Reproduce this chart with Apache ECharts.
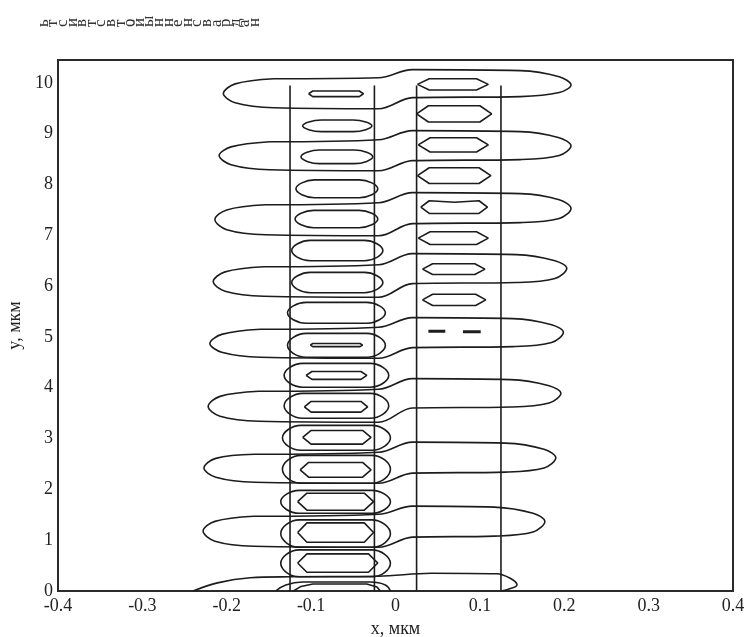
<!DOCTYPE html>
<html><head><meta charset="utf-8">
<script src="https://cdn.jsdelivr.net/npm/echarts@6/dist/echarts.min.js"></script>
<style>html,body{margin:0;padding:0;background:#fff}#c{width:744px;height:637px}</style>
</head><body><div id="c"></div>
<script>
// ---- axes ----
const xMin = -0.4, xMax = 0.4, xStep = 0.1;
const yMin = 0, yMax = 10.45, yStep = 1;
const yTickLabels = [0,1,2,3,4,5,6,7,8,9,10];
const xName = 'x, мкм';
const yName = 'y, мкм';
const headerText = 'ьтсивтсвтойынненсвардан';

// ---- strip edges (vertical lines) ----
const stripEdges = [-0.125, -0.025, 0.025, 0.125];
const stripTop = 9.95;

// ---- big slanted contour loops (left finger + right finger) ----
const loop1 = [[-0.144,10.08],[-0.02,10.10],[0.02,10.26],[0.148,10.24],[0.194,10.12],[0.208,9.96],[0.194,9.81],[0.148,9.73],[0.02,9.71],[-0.02,9.49],[-0.144,9.51],[-0.19,9.61],[-0.204,9.79],[-0.19,9.98],[-0.144,10.08]];
const loop2 = [[-0.149,8.84],[-0.02,8.88],[0.02,9.06],[0.148,9.04],[0.194,8.92],[0.208,8.76],[0.194,8.57],[0.148,8.49],[0.02,8.47],[-0.02,8.27],[-0.149,8.29],[-0.195,8.39],[-0.209,8.57],[-0.195,8.74],[-0.149,8.84]];
const loop3 = [[-0.154,7.60],[-0.02,7.64],[0.02,7.84],[0.148,7.82],[0.194,7.70],[0.208,7.53],[0.194,7.33],[0.148,7.25],[0.02,7.23],[-0.02,6.99],[-0.154,7.01],[-0.2,7.11],[-0.214,7.31],[-0.2,7.50],[-0.154,7.60]];
const loop4 = [[-0.156,6.38],[-0.02,6.42],[0.02,6.64],[0.143,6.62],[0.189,6.50],[0.203,6.35],[0.189,6.15],[0.143,6.07],[0.02,6.05],[-0.02,5.78],[-0.156,5.80],[-0.202,5.90],[-0.216,6.09],[-0.202,6.28],[-0.156,6.38]];
const loop5 = [[-0.16,5.15],[-0.02,5.19],[0.02,5.38],[0.139,5.36],[0.185,5.24],[0.199,5.09],[0.185,4.89],[0.139,4.81],[0.02,4.79],[-0.02,4.58],[-0.16,4.60],[-0.206,4.70],[-0.22,4.87],[-0.206,5.05],[-0.16,5.15]];
const loop6 = [[-0.162,3.93],[-0.02,3.97],[0.02,4.18],[0.136,4.16],[0.182,4.04],[0.196,3.89],[0.182,3.70],[0.136,3.62],[0.02,3.60],[-0.02,3.32],[-0.162,3.34],[-0.208,3.44],[-0.222,3.63],[-0.208,3.83],[-0.162,3.93]];
const loop7 = [[-0.167,2.69],[-0.02,2.73],[0.02,2.93],[0.13,2.91],[0.176,2.79],[0.19,2.62],[0.176,2.42],[0.13,2.34],[0.02,2.32],[-0.02,2.12],[-0.167,2.14],[-0.213,2.24],[-0.227,2.42],[-0.213,2.61],[-0.167,2.69]];
const loop8 = [[-0.168,1.47],[-0.02,1.51],[0.02,1.67],[0.117,1.65],[0.163,1.53],[0.177,1.37],[0.163,1.16],[0.117,1.08],[0.02,1.06],[-0.02,0.86],[-0.168,0.88],[-0.214,0.98],[-0.228,1.18],[-0.214,1.37],[-0.168,1.47]];
const loop9 = [[-0.24,0],[-0.211,0.16],[-0.172,0.26],[-0.125,0.28],[-0.02,0.29],[0.042,0.35],[0.12,0.34],[0.136,0.25],[0.144,0.12],[0.133,0.03],[0.125,0]];
const bigLoops = [loop1, loop2, loop3, loop4, loop5, loop6, loop7, loop8, loop9];

// ---- left strip: middle ovals ----
const midOvals = [
 [[-0.069,9.27],[-0.050,9.27],[-0.028,9.155],[-0.050,9.04],[-0.088,9.04],[-0.110,9.155],[-0.088,9.27],[-0.069,9.27]],
 [[-0.07,8.68],[-0.049,8.68],[-0.027,8.545],[-0.049,8.41],[-0.090,8.41],[-0.112,8.545],[-0.090,8.68],[-0.07,8.68]],
 [[-0.07,8.09],[-0.043,8.09],[-0.021,7.915],[-0.043,7.74],[-0.096,7.74],[-0.118,7.915],[-0.096,8.09],[-0.07,8.09]],
 [[-0.07,7.49],[-0.043,7.49],[-0.021,7.32],[-0.043,7.15],[-0.097,7.15],[-0.119,7.32],[-0.097,7.49],[-0.07,7.49]],
 [[-0.069,6.90],[-0.037,6.90],[-0.015,6.70],[-0.037,6.50],[-0.101,6.50],[-0.123,6.70],[-0.101,6.90],[-0.069,6.90]],
 [[-0.069,6.27],[-0.037,6.27],[-0.015,6.07],[-0.037,5.87],[-0.101,5.87],[-0.123,6.07],[-0.101,6.27],[-0.069,6.27]],
 [[-0.07,5.68],[-0.034,5.68],[-0.012,5.475],[-0.034,5.27],[-0.106,5.27],[-0.128,5.475],[-0.106,5.68],[-0.07,5.68]],
 [[-0.07,5.07],[-0.034,5.07],[-0.012,4.835],[-0.034,4.60],[-0.106,4.60],[-0.128,4.835],[-0.106,5.07],[-0.07,5.07]],
 [[-0.07,4.48],[-0.030,4.48],[-0.008,4.245],[-0.030,4.01],[-0.110,4.01],[-0.132,4.245],[-0.110,4.48],[-0.07,4.48]],
 [[-0.07,3.89],[-0.030,3.89],[-0.008,3.645],[-0.030,3.40],[-0.110,3.40],[-0.132,3.645],[-0.110,3.89],[-0.07,3.89]],
 [[-0.07,3.26],[-0.028,3.26],[-0.006,3.015],[-0.028,2.77],[-0.112,2.77],[-0.134,3.015],[-0.112,3.26],[-0.07,3.26]],
 [[-0.07,2.67],[-0.028,2.67],[-0.006,2.395],[-0.028,2.12],[-0.112,2.12],[-0.134,2.395],[-0.112,2.67],[-0.07,2.67]],
 [[-0.071,1.98],[-0.028,1.98],[-0.006,1.755],[-0.028,1.53],[-0.114,1.53],[-0.136,1.755],[-0.114,1.98],[-0.071,1.98]],
 [[-0.071,1.40],[-0.028,1.40],[-0.006,1.13],[-0.028,0.86],[-0.114,0.86],[-0.136,1.13],[-0.114,1.40],[-0.071,1.40]],
 [[-0.071,0.81],[-0.028,0.81],[-0.006,0.545],[-0.028,0.28],[-0.114,0.28],[-0.136,0.545],[-0.114,0.81],[-0.071,0.81]],
 [[-0.142,0],[-0.13,0.12],[-0.11,0.177],[-0.03,0.177],[-0.012,0.12],[-0.006,0]]
];

// ---- left strip: inner ovals ----
const innerOvals = [
 [[-0.103,9.785],[-0.098,9.84],[-0.043,9.84],[-0.038,9.785],[-0.043,9.73],[-0.098,9.73],[-0.103,9.785]],
 [[-0.101,4.84],[-0.098,4.87],[-0.042,4.87],[-0.039,4.84],[-0.042,4.81],[-0.098,4.81],[-0.101,4.84]],
 [[-0.106,4.243],[-0.099,4.32],[-0.041,4.32],[-0.034,4.243],[-0.041,4.165],[-0.099,4.165],[-0.106,4.243]],
 [[-0.108,3.625],[-0.100,3.73],[-0.041,3.73],[-0.033,3.625],[-0.041,3.52],[-0.100,3.52],[-0.108,3.625]],
 [[-0.110,3.025],[-0.100,3.16],[-0.039,3.16],[-0.029,3.025],[-0.039,2.89],[-0.100,2.89],[-0.110,3.025]],
 [[-0.113,2.385],[-0.103,2.53],[-0.039,2.53],[-0.029,2.385],[-0.039,2.24],[-0.103,2.24],[-0.113,2.385]],
 [[-0.116,1.758],[-0.105,1.925],[-0.037,1.925],[-0.026,1.758],[-0.037,1.59],[-0.105,1.59],[-0.116,1.758]],
 [[-0.116,1.15],[-0.105,1.34],[-0.037,1.34],[-0.026,1.15],[-0.037,0.96],[-0.105,0.96],[-0.116,1.15]],
 [[-0.116,0.55],[-0.105,0.73],[-0.032,0.73],[-0.021,0.55],[-0.032,0.37],[-0.105,0.37],[-0.116,0.55]],
 [[-0.121,0],[-0.112,0.09],[-0.098,0.138],[-0.034,0.138],[-0.022,0.08],[-0.018,0]]
];

// ---- right strip: ovals ----
const rightOvals = [
 [[0.026,9.97],[0.04,10.08],[0.096,10.08],[0.110,9.97],[0.096,9.86],[0.04,9.86],[0.026,9.97]],
 [[0.025,9.39],[0.039,9.55],[0.1,9.55],[0.114,9.39],[0.1,9.23],[0.039,9.23],[0.025,9.39]],
 [[0.027,8.78],[0.041,8.92],[0.096,8.92],[0.110,8.78],[0.096,8.64],[0.041,8.64],[0.027,8.78]],
 [[0.026,8.175],[0.04,8.33],[0.099,8.33],[0.113,8.175],[0.099,8.02],[0.04,8.02],[0.026,8.175]],
 [[0.030,7.555],[0.040,7.68],[0.07,7.65],[0.099,7.68],[0.109,7.555],[0.099,7.43],[0.040,7.43],[0.030,7.555]],
 [[0.027,6.945],[0.041,7.07],[0.096,7.07],[0.110,6.945],[0.096,6.82],[0.041,6.82],[0.027,6.945]],
 [[0.032,6.335],[0.044,6.44],[0.094,6.44],[0.106,6.335],[0.094,6.23],[0.044,6.23],[0.032,6.335]],
 [[0.032,5.73],[0.044,5.84],[0.095,5.84],[0.107,5.73],[0.095,5.62],[0.044,5.62],[0.032,5.73]]
];
const rightDashes = [
 [[0.039,5.11],[0.059,5.11]],
 [[0.080,5.10],[0.101,5.10]]
];

// ---- build ----
const INK = '#1c1c1c';
const FONT = '"Liberation Serif", "DejaVu Serif", serif';
function ls(data, smooth, width) {
  return { type: 'line', data: data, smooth: smooth, symbol: 'none', showSymbol: false,
    silent: true, animation: false, clip: true,
    lineStyle: { color: INK, width: width } };
}
const series = [];
stripEdges.forEach(x => series.push(ls([[x, 0], [x, stripTop]], false, 1.6)));
bigLoops.forEach(d => series.push(ls(d, 0.35, 1.6)));
midOvals.forEach(d => series.push(ls(d, 0.45, 1.6)));
innerOvals.forEach(d => series.push(ls(d, false, 1.6)));
rightOvals.forEach(d => series.push(ls(d, false, 1.6)));
rightDashes.forEach(d => series.push(ls(d, false, 3)));

const chart = echarts.init(document.getElementById('c'), null, { renderer: 'canvas' });
chart.setOption({
  backgroundColor: '#fff',
  animation: false,
  grid: { left: 58, right: 11, top: 60, bottom: 46, containLabel: false, outerBoundsMode: 'none',
    show: true, borderColor: '#2a2a2a', borderWidth: 2, backgroundColor: 'transparent' },
  xAxis: {
    type: 'value', min: xMin, max: xMax, interval: xStep,
    name: xName, nameLocation: 'middle', nameGap: 28,
    nameTextStyle: { fontFamily: FONT, fontSize: 18, color: '#222' },
    axisLine: { show: false }, axisTick: { show: false }, splitLine: { show: false },
    axisLabel: { margin: 6, fontFamily: FONT, fontSize: 18, color: '#222' }
  },
  yAxis: {
    type: 'value', min: yMin, max: yMax, interval: yStep,
    name: yName, nameLocation: 'middle', nameGap: 34, nameRotate: 90,
    nameTextStyle: { fontFamily: FONT, fontSize: 18, color: '#222' },
    axisLine: { show: false }, axisTick: { show: false }, splitLine: { show: false },
    axisLabel: { margin: 5, fontFamily: FONT, fontSize: 18, color: '#222',
      formatter: v => (yTickLabels.indexOf(v) >= 0 ? String(v) : '') }
  },
  graphic: [{
    type: 'text', x: 149, y: 27, rotation: Math.PI / 2,
    style: { text: headerText.split('').join('\n'), fontFamily: FONT, fontSize: 17, lineHeight: 9.6,
      fill: '#333', align: 'left', verticalAlign: 'middle' }
  }],
  series: series
});
</script>
</body></html>
